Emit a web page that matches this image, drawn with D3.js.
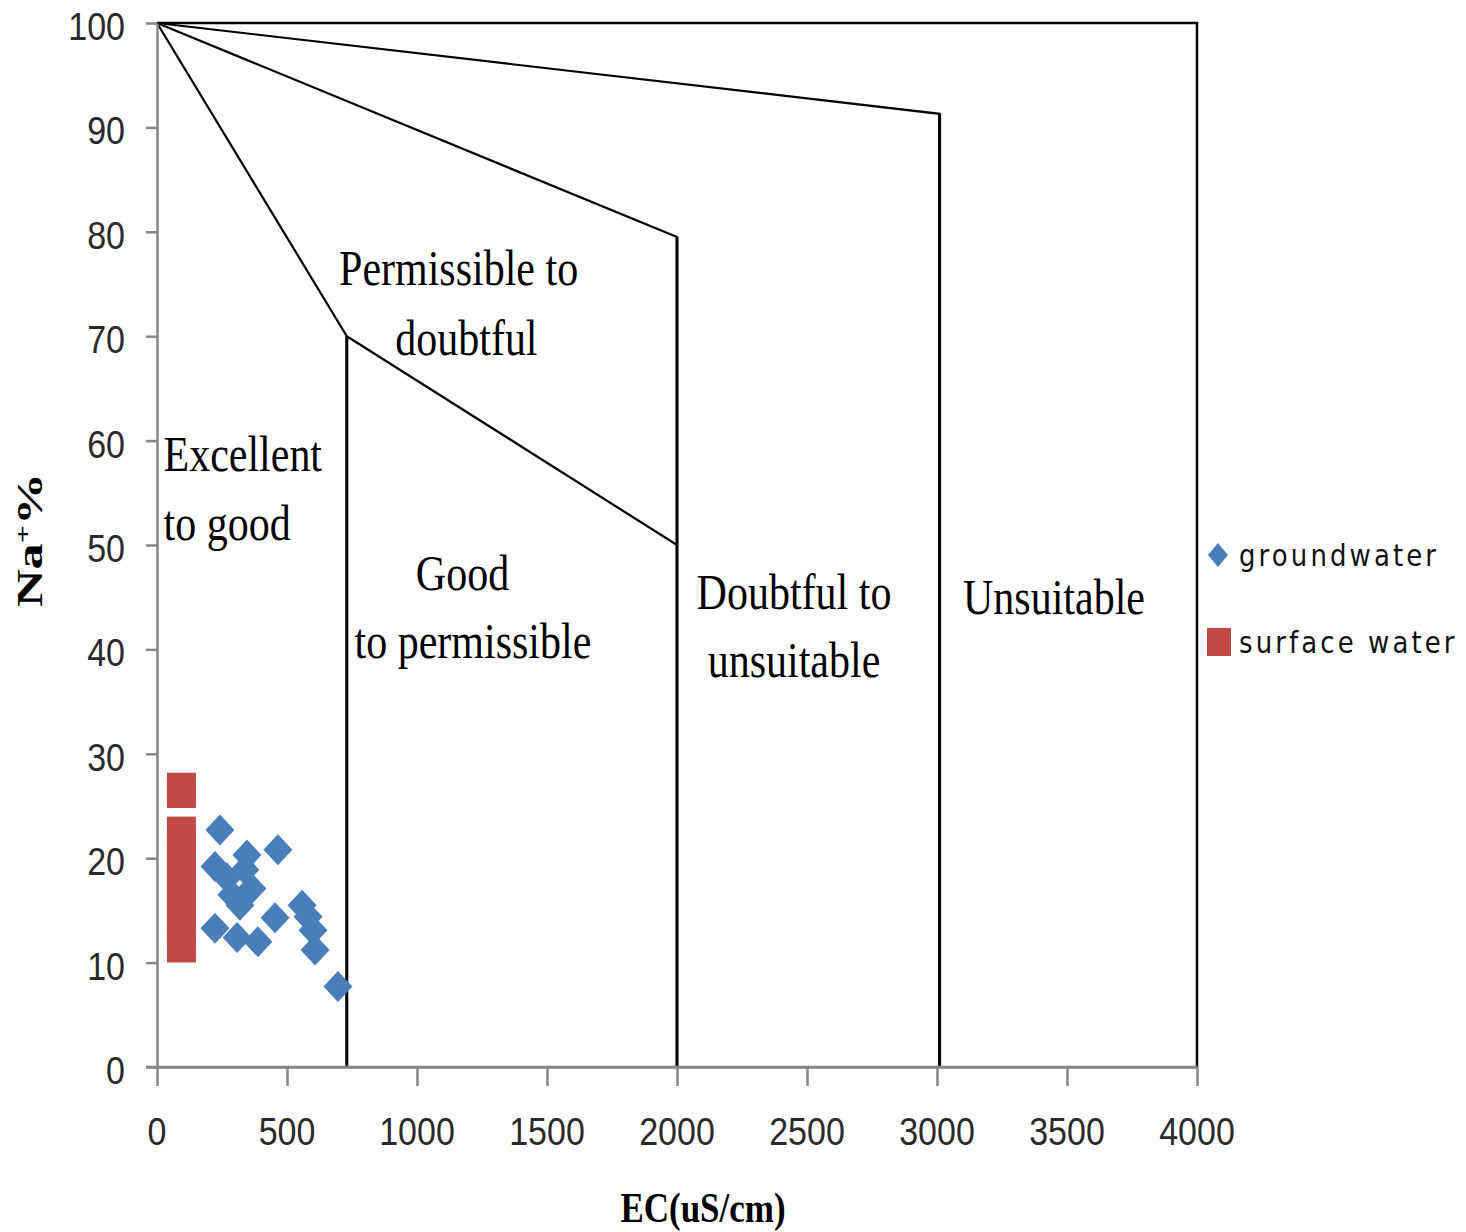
<!DOCTYPE html>
<html><head><meta charset="utf-8">
<script src="https://cdn.jsdelivr.net/npm/d3@7"></script>
<style>body{margin:0;background:#fff}svg{display:block}</style>
</head><body>
<svg id="c" width="1466" height="1232"></svg>
<script>
// ---- data ----
const xTicks = [0,500,1000,1500,2000,2500,3000,3500,4000];
const yTicks = [0,10,20,30,40,50,60,70,80,90,100];
const groundEC = [242,465,346,223,269,365,319,454,223,308,388,558,581,600,608,696,338,288];
const groundNa = [22.7,20.8,20.3,19.2,18.1,17.1,15.5,14.3,13.3,12.4,12.0,15.5,14.4,13.1,11.2,7.7,18.9,16.5];
const surfaceEC = [94,94,94,94,94,94,94,94,94,94,94];
const surfaceNa = [26.8,26.2,22.6,21.3,20.0,18.6,17.2,15.8,14.4,13.0,11.4];
const boundaryLines = [
  [[0,100],[730,70],[730,0]],
  [[730,70],[2000,50]],
  [[0,100],[2000,79.5],[2000,0]],
  [[0,100],[3010,91.3],[3010,0]]
];
const regionLabels = [
  {text:"Permissible to", ec:1160, na:74.9, anchor:"middle"},
  {text:"doubtful", ec:1190, na:68.2, anchor:"middle"},
  {text:"Excellent", ec:25, na:57.1, anchor:"start"},
  {text:"to good", ec:25, na:50.5, anchor:"start"},
  {text:"Good", ec:1175, na:45.7, anchor:"middle"},
  {text:"to permissible", ec:1215, na:39.2, anchor:"middle"},
  {text:"Doubtful to", ec:2450, na:43.9, anchor:"middle"},
  {text:"unsuitable", ec:2450, na:37.4, anchor:"middle"},
  {text:"Unsuitable", ec:3450, na:43.4, anchor:"middle"}
];
const legendItems = ["groundwater","surface water"];

// ---- chart ----
const svg = d3.select("#c");
const x = d3.scaleLinear().domain([0,4000]).range([157,1197]);
const y = d3.scaleLinear().domain([0,100]).range([1067,23]);
const gray = "#868686";

svg.append("path").attr("d",`M${x(0)},${y(100)}H${x(4000)}V${y(0)}`)
  .attr("fill","none").attr("stroke","#000").attr("stroke-width",2.5);

const lineGen = d3.line().x(d=>x(d[0])).y(d=>y(d[1]));
boundaryLines.forEach(l=>{
  svg.append("path").attr("d",lineGen(l)).attr("fill","none")
    .attr("stroke","#000").attr("stroke-width",2.2);
});
boundaryLines.forEach(l=>{
  if(l.length===3){
    svg.append("line").attr("x1",x(l[1][0])).attr("x2",x(l[2][0]))
      .attr("y1",y(l[1][1])).attr("y2",y(0)).attr("stroke","#000").attr("stroke-width",3);
  }
});

const xa = svg.append("g").attr("transform",`translate(0,${y(0)})`)
  .call(d3.axisBottom(x).tickValues(xTicks).tickSize(19).tickSizeOuter(0).tickFormat(""));
const ya = svg.append("g").attr("transform",`translate(${x(0)},0)`)
  .call(d3.axisLeft(y).tickValues(yTicks).tickSize(11).tickSizeOuter(0).tickFormat(""));
[xa,ya].forEach(g=>{
  g.select(".domain").attr("stroke",gray).attr("stroke-width",2.5);
  g.selectAll(".tick line").attr("stroke",gray).attr("stroke-width",2.5);
});
svg.append("line").attr("x1",x(0)-11).attr("x2",x(4000)).attr("y1",y(0)).attr("y2",y(0))
  .attr("stroke",gray).attr("stroke-width",2.5);

const sansTxt = (sel)=>sel.attr("font-family","'Liberation Sans', Arial, sans-serif").attr("font-size",34).attr("fill","#2a2a2a");
xTicks.forEach(t=>{
  svg.append("text").text(t).call(sansTxt).attr("text-anchor","middle")
    .attr("transform",`translate(${x(t)},${1145}) scale(1,1.15)`);
});
yTicks.forEach(t=>{
  svg.append("text").text(t).call(sansTxt).attr("text-anchor","end")
    .attr("transform",`translate(125,${y(t)+17}) scale(1,1.15)`);
});

regionLabels.forEach(r=>{
  svg.append("text").text(r.text).attr("font-family","'Liberation Serif','Times New Roman',serif")
    .attr("font-size",42).attr("fill","#000").attr("text-anchor",r.anchor)
    .attr("transform",`translate(${x(r.ec)},${y(r.na)}) scale(1,1.2)`);
});

svg.append("text").text("EC(uS/cm)").attr("font-family","'Liberation Serif','Times New Roman',serif")
  .attr("font-weight","bold").attr("font-size",35).attr("text-anchor","middle")
  .attr("transform",`translate(703,1222) scale(1,1.2)`);
const yt = svg.append("text").attr("font-family","'Liberation Serif','Times New Roman',serif")
  .attr("font-weight","bold").attr("font-size",36).attr("text-anchor","middle")
  .attr("transform",`translate(42,540) rotate(-90) scale(1.45,1)`);
yt.append("tspan").text("Na");
yt.append("tspan").text("+").attr("font-size",22).attr("dy",-12);
yt.append("tspan").text("%").attr("dy",12);

const diamond = (cx,cy,hw,hh)=>`M${cx},${cy-hh}L${cx+hw},${cy}L${cx},${cy+hh}L${cx-hw},${cy}Z`;
const blue = "#4A7EBB", red = "#C24A45";
surfaceEC.forEach((e,i)=>{
  svg.append("rect").attr("x",x(e)-14.5).attr("y",y(surfaceNa[i])-14.5)
    .attr("width",29).attr("height",29).attr("fill",red);
});
groundEC.forEach((e,i)=>{
  svg.append("path").attr("d",diamond(x(e),y(groundNa[i]),14.5,15.5)).attr("fill",blue);
});

svg.append("path").attr("d",diamond(1218,555,10,12)).attr("fill",blue);
svg.append("rect").attr("x",1207).attr("y",628).attr("width",24).attr("height",28).attr("fill",red);
legendItems.forEach((s,i)=>{
  svg.append("text").text(s).attr("font-family","'DejaVu Sans',Verdana,sans-serif")
    .attr("font-size",26).attr("letter-spacing",3.1).attr("fill","#111")
    .attr("transform",`translate(1239,${i===0?566:653}) scale(1,1.18)`);
});
</script>
</body></html>
